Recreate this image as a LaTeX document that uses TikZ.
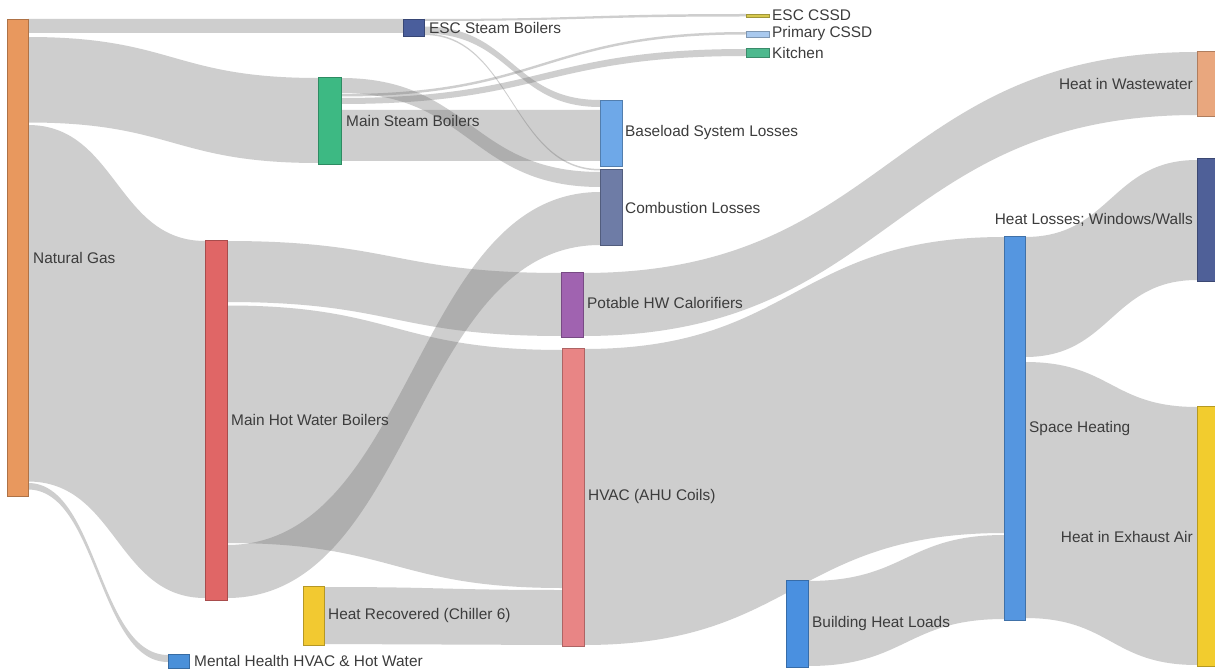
\documentclass[tikz,border=0pt]{standalone}
\usepackage{fontspec}
\setmainfont{Liberation Sans}
\usetikzlibrary{calc,fit}
\pgfdeclarelayer{bg}
\pgfsetlayers{bg,main}
\definecolor{cNG}{HTML}{E8985E}
\definecolor{cESC}{HTML}{4A5E9C}
\definecolor{cMSB}{HTML}{3DB983}
\definecolor{cMHWB}{HTML}{E06666}
\definecolor{cMH}{HTML}{4A90D9}
\definecolor{cESCC}{HTML}{D6C84E}
\definecolor{cPC}{HTML}{A9C9EE}
\definecolor{cKIT}{HTML}{4DB98E}
\definecolor{cBASE}{HTML}{6EA8E8}
\definecolor{cCOMB}{HTML}{6E7CA6}
\definecolor{cPOT}{HTML}{A063B0}
\definecolor{cHVAC}{HTML}{E88585}
\definecolor{cHRC}{HTML}{F2C931}
\definecolor{cBHL}{HTML}{4A90E0}
\definecolor{cSH}{HTML}{5596E0}
\definecolor{cWW}{HTML}{E9A77E}
\definecolor{cHL}{HTML}{4F6098}
\definecolor{cEA}{HTML}{F2CC2E}
\definecolor{labelgray}{HTML}{3C3C3C}
\tikzset{
  link/.style={fill=black!55, fill opacity=0.35, draw=none},
  nd/.style={rectangle, inner sep=0pt, outer sep=0pt, line width=0.7pt},
  lbl/.style={inner sep=0pt, font=\fontsize{15.4}{18}\selectfont, text=labelgray},
}
% #1 source node, #2/#3 top/bottom y at source, #4 target node, #5/#6 top/bottom y at target
\newcommand\sklink[6]{%
  \fill[link] let \p1=(#1.east), \p2=(#4.west), \n1={\x1}, \n2={\x2}, \n3={(\x1+\x2)/2} in
    (\n1,#2) .. controls (\n3,#2) and (\n3,#5) .. (\n2,#5) -- (\n2,#6)
    .. controls (\n3,#6) and (\n3,#3) .. (\n1,#3) -- cycle;}
\newcommand\sknode[6]{%
  \node[nd, fit={(#2,#3) (#4,#5)}, fill=#6, draw=#6!75!black] (#1) {};}
\begin{document}
\begin{tikzpicture}[x=1pt,y=-1pt]
\useasboundingbox (0,0) rectangle (1215,671);
% nodes
\sknode{ng}{7}{19}{28}{496}{cNG}
\sknode{esc}{403}{19}{424}{36}{cESC}
\sknode{msb}{318}{77}{341}{164}{cMSB}
\sknode{mhwb}{205}{240}{227}{600}{cMHWB}
\sknode{mh}{168}{654}{189}{668}{cMH}
\sknode{esccssd}{746}{14}{769}{17}{cESCC}
\sknode{pcssd}{746}{31}{769}{37}{cPC}
\sknode{kit}{746}{48}{769}{57}{cKIT}
\sknode{base}{600}{100}{622}{166}{cBASE}
\sknode{comb}{600}{169}{622}{245}{cCOMB}
\sknode{pot}{561}{272}{583}{337}{cPOT}
\sknode{hvac}{562}{348}{584}{646}{cHVAC}
\sknode{hrc}{303}{586}{324}{645}{cHRC}
\sknode{bhl}{786}{580}{808}{667}{cBHL}
\sknode{sh}{1004}{236}{1025}{620}{cSH}
\sknode{ww}{1197}{51}{1215}{116}{cWW}
\sknode{hl}{1197}{158}{1215}{281}{cHL}
\sknode{ea}{1197}{406}{1215}{666}{cEA}
% links
\begin{pgfonlayer}{bg}
\fill[white] (0,0) rectangle (1215,671);
\sklink{ng}{19}{33}{esc}{19}{33}
\sklink{ng}{37}{122.5}{msb}{78}{163}
\sklink{ng}{125}{481.5}{mhwb}{241}{598}
\sklink{ng}{483}{489.5}{mh}{655}{662}
\sklink{esc}{19}{21}{esccssd}{14}{16.5}
\sklink{esc}{26.5}{33.5}{base}{100}{107}
\sklink{esc}{33.5}{35}{comb}{169}{170.5}
\sklink{msb}{78}{93}{comb}{172}{187}
\sklink{msb}{94}{96.5}{pcssd}{32}{34.5}
\sklink{msb}{98}{104}{kit}{49}{56}
\sklink{msb}{110}{161}{base}{110}{161}
\sklink{mhwb}{241}{302}{pot}{273}{336}
\sklink{mhwb}{305.5}{543}{hvac}{350}{588}
\sklink{mhwb}{545}{598}{comb}{192}{245}
\sklink{pot}{273}{336}{ww}{52}{115}
\sklink{hrc}{587}{644}{hvac}{590}{645}
\sklink{hvac}{349}{645}{sh}{237}{533}
\sklink{bhl}{581}{666}{sh}{535}{619}
\sklink{sh}{237}{357}{hl}{160}{280}
\sklink{sh}{362}{618}{ea}{407}{665}
\end{pgfonlayer}
% labels
\node[lbl, anchor=west] (ng-t) at (33,258) {Natural Gas};
\node[lbl, anchor=west] (esc-t) at (429,28) {ESC Steam Boilers};
\node[lbl, anchor=west] (msb-t) at (346,121) {Main Steam Boilers};
\node[lbl, anchor=west] (mhwb-t) at (231,420) {Main Hot Water Boilers};
\node[lbl, anchor=west] (mh-t) at (194,661) {Mental Health HVAC \& Hot Water};
\node[lbl, anchor=west] (esccssd-t) at (772,15) {ESC CSSD};
\node[lbl, anchor=west] (pcssd-t) at (772,34) {Primary CSSD};
\node[lbl, anchor=west] (kit-t) at (772,53) {Kitchen};
\node[lbl, anchor=west] (base-t) at (625,133) {Baseload System Losses};
\node[lbl, anchor=west] (comb-t) at (625,208) {Combustion Losses};
\node[lbl, anchor=west] (pot-t) at (587,303) {Potable HW Calorifiers};
\node[lbl, anchor=west] (hvac-t) at (588,497) {HVAC (AHU Coils)};
\node[lbl, anchor=west] (hrc-t) at (328,616) {Heat Recovered (Chiller 6)};
\node[lbl, anchor=west] (bhl-t) at (812,624) {Building Heat Loads};
\node[lbl, anchor=west] (sh-t) at (1029,429) {Space Heating};
\node[lbl, anchor=east] (ww-t) at (1193,84) {Heat in Wastewater};
\node[lbl, anchor=east] (hl-t) at (1193,220) {Heat Losses; Windows/Walls};
\node[lbl, anchor=east] (ea-t) at (1193,537) {Heat in Exhaust Air};
\end{tikzpicture}
\end{document}
